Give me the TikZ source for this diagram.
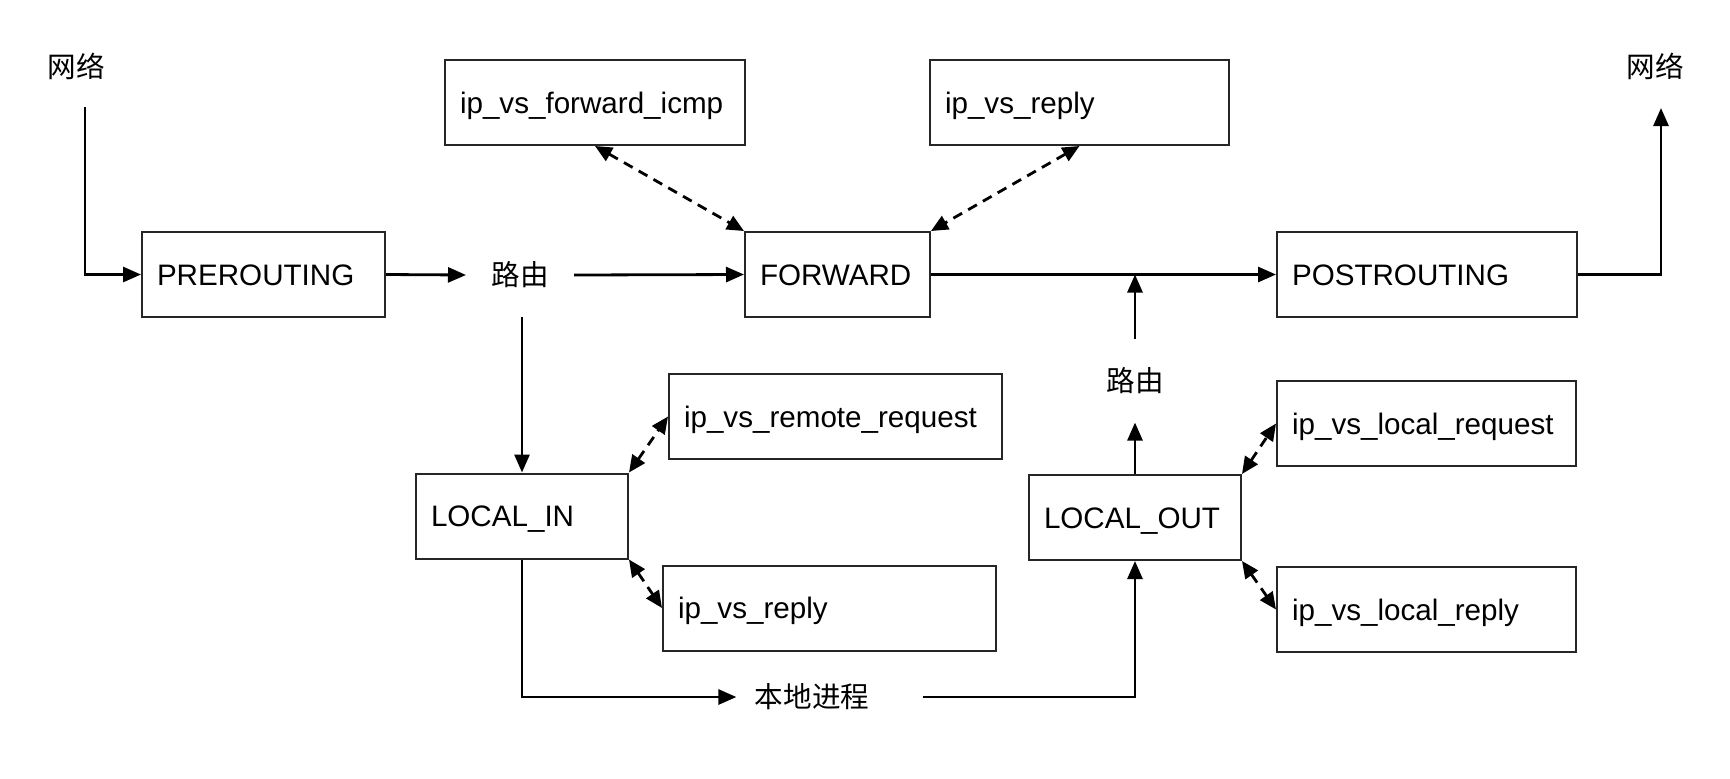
\documentclass[tikz,border=0pt]{standalone}
\usepackage{fontspec}
\setmainfont{Liberation Sans}
\newfontfamily\cjk{Noto Sans CJK SC}
\usetikzlibrary{arrows.meta}
\begin{document}
\begin{tikzpicture}[x=0.5pt,y=-0.5pt,
  font=\fontsize{14.8pt}{17pt}\selectfont,
  box/.style={draw=black!85, line width=1pt, minimum height=42.5pt, inner xsep=7.5pt, inner ysep=0pt, align=left, text height=10.7pt, text depth=0pt},
  lbl/.style={font=\cjk\fontsize{14.3pt}{17pt}\selectfont, inner xsep=12.5pt, inner ysep=14pt},
  arr/.style={line width=1.4pt, -{Triangle[length=9pt,width=7.5pt]}},
  darr/.style={line width=1.4pt, dash pattern=on 5pt off 3.5pt, {Triangle[length=8.5pt,width=7.5pt]}-{Triangle[length=8.5pt,width=7.5pt]}}]
\useasboundingbox (0,0) rectangle (1730,778);
\fill[white] (0,0) rectangle (1730,778);

% boxes
\node[box, text width=106.5pt] (pre)  at (263.5,274.5) {PREROUTING};
\node[box, text width=135pt]   (icmp) at (595,102.5)   {ip\_vs\_forward\_icmp};
\node[box, text width=134.5pt] (rep1) at (1079.5,102.5) {ip\_vs\_reply};
\node[box, text width=77.5pt]  (fwd)  at (837.5,274.5) {FORWARD};
\node[box, text width=135pt]   (post) at (1427,274.5)  {POSTROUTING};
\node[box, text width=91pt]    (lin)  at (522,516)     {LOCAL\_IN};
\node[box, text width=151.5pt] (rreq) at (835.5,416.5) {ip\_vs\_remote\_request};
\node[box, text width=151.5pt] (rep2) at (829.5,608)   {ip\_vs\_reply};
\node[box, text width=91pt]    (lout) at (1135,517.5)  {LOCAL\_OUT};
\node[box, text width=134.5pt] (lreq) at (1426.5,423.5) {ip\_vs\_local\_request};
\node[box, text width=134.5pt] (lrep) at (1426.5,609.5) {ip\_vs\_local\_reply};

% labels
\node[lbl] (net1) at (76,66) {网络};
\node[lbl] (net2) at (1655,66) {网络};
\node[lbl] (r1) at (520,275) {路由};
\node[lbl] (r2) at (1135,381) {路由};
\node[lbl, inner xsep=9pt] (lp) at (812,697) {本地进程};

\coordinate (n1s) at (85,107);
\coordinate (n2e) at (1661,108);

% solid connectors
\draw[arr] (n1s) |- (pre.west);
\draw[arr] (pre.east) -- (r1.west);
\draw[arr] (r1.east) -- (fwd.west);
\draw[arr] (fwd.east) -- (post.west);
\draw[arr] (post.east) -| (n2e);
\draw[arr] (r2.north) -- (r2.north |- fwd.east);
\draw[arr] (lout.north) -- (r2.south);
\draw[arr] (lin.north |- r1.south) -- (lin.north);
\draw[arr] (lin.south) |- (lp.west);
\draw[arr, shorten <=17.5pt] (lp.east) -| (lout.south);

% dashed connectors
\draw[darr] (icmp.south) -- (fwd.north west);
\draw[darr] (rep1.south) -- (fwd.north east);
\draw[darr] (lin.north east) -- (rreq.west);
\draw[darr] (lin.south east) -- (rep2.west);
\draw[darr] (lout.north east) -- (lreq.west);
\draw[darr] (lout.south east) -- (lrep.west);
\end{tikzpicture}
\end{document}
